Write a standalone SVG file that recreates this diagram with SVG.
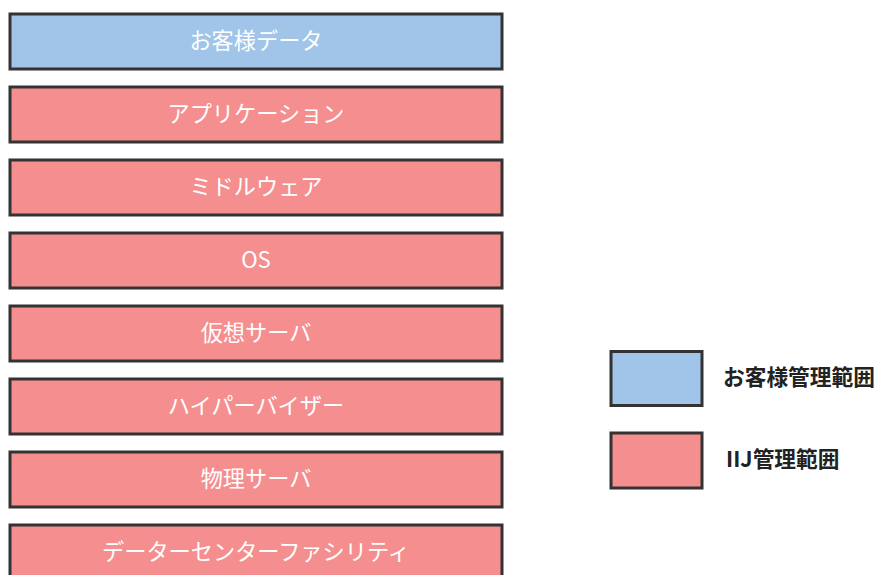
<svg xmlns="http://www.w3.org/2000/svg" width="877" height="575" viewBox="0 0 877 575">
<style>
.box{stroke:#333333;stroke-width:3}
.blue{fill:#A0C5E8}
.pink{fill:#F58F8F}
.lbl{font-family:"Noto Sans CJK JP","Liberation Sans",sans-serif;font-size:22.2px;font-weight:normal;fill:#FFFFFF;text-anchor:middle;dominant-baseline:central}
.leg{font-family:"Noto Sans CJK JP","Liberation Sans",sans-serif;font-size:21.7px;font-weight:bold;fill:#222222;dominant-baseline:central}
</style>
<rect width="877" height="575" fill="#FFFFFF"/>
<g id="n1"><rect class="box blue" x="10" y="14" width="492" height="55"/><text class="lbl" x="256" y="39">お客様データ</text></g>
<g id="n2"><rect class="box pink" x="10" y="87" width="492" height="55"/><text class="lbl" x="256" y="112">アプリケーション</text></g>
<g id="n3"><rect class="box pink" x="10" y="160" width="492" height="55"/><text class="lbl" x="256" y="185">ミドルウェア</text></g>
<g id="n4"><rect class="box pink" x="10" y="233" width="492" height="55"/><text class="lbl" x="256" y="258">OS</text></g>
<g id="n5"><rect class="box pink" x="10" y="306" width="492" height="55"/><text class="lbl" x="256" y="331">仮想サーバ</text></g>
<g id="n6"><rect class="box pink" x="10" y="379" width="492" height="55"/><text class="lbl" x="256" y="404">ハイパーバイザー</text></g>
<g id="n7"><rect class="box pink" x="10" y="452" width="492" height="55"/><text class="lbl" x="256" y="477">物理サーバ</text></g>
<g id="n8"><rect class="box pink" x="10" y="525" width="492" height="55"/><text class="lbl" x="256" y="550">データーセンターファシリティ</text></g>
<g id="legend-customer"><rect class="box blue" x="611" y="351.5" width="91" height="54"/><text class="leg" x="723" y="375.5">お客様管理範囲</text></g>
<g id="legend-iij"><rect class="box pink" x="611" y="433" width="91" height="55"/><text class="leg" x="726" y="457.5">IIJ管理範囲</text></g>
<g id="connectors"></g>
</svg>
